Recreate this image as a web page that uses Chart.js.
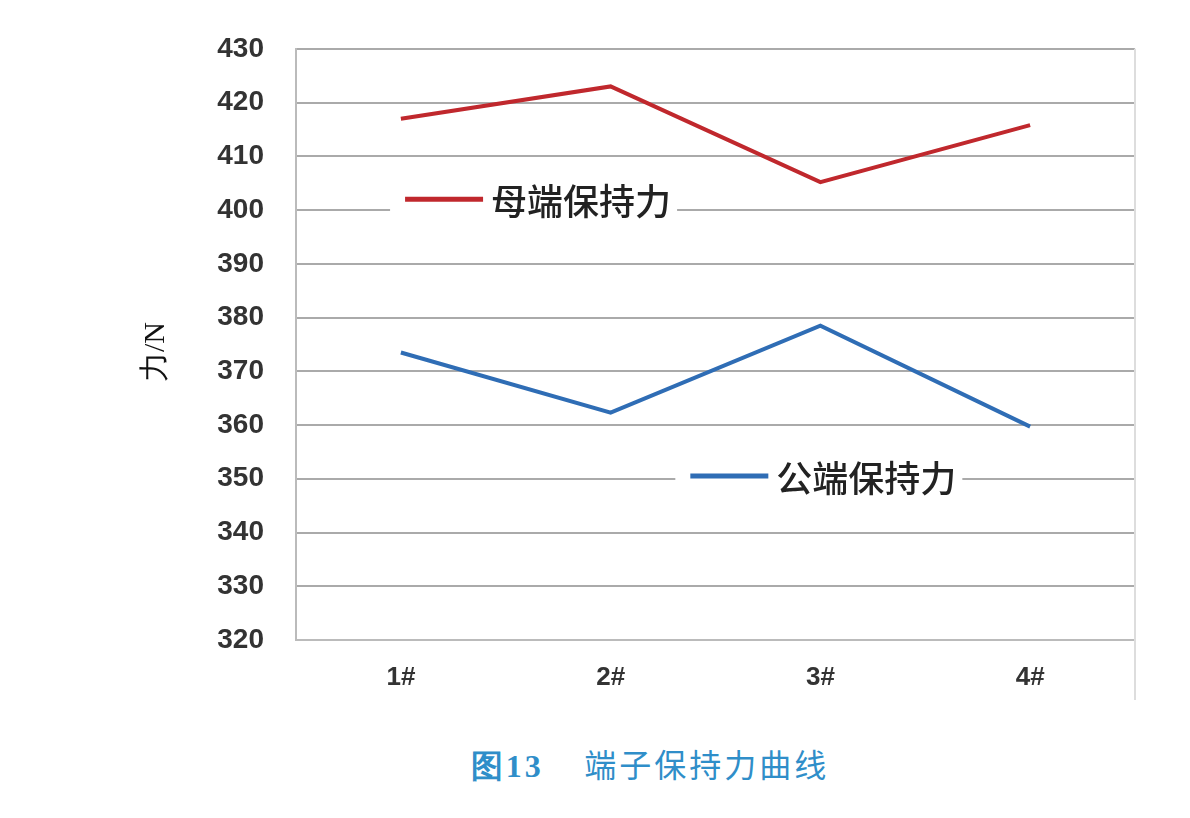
<!DOCTYPE html>
<html><head><meta charset="utf-8">
<script src="https://cdn.jsdelivr.net/npm/chart.js@4/dist/chart.umd.min.js"></script>
<style>
body{margin:0;background:#fff;width:1190px;height:818px;overflow:hidden;font-family:"Noto Sans CJK SC",sans-serif}
#wrap{position:absolute;left:0;top:0;width:1190px;height:710px}
#cap{position:absolute;left:110px;width:1080px;top:740px;text-align:center;color:#2f8ec9;font-size:32px;letter-spacing:3px}
</style></head><body>
<div id="wrap"><canvas id="c"></canvas></div>
<div id="cap"><span style="font-family:'Liberation Serif';font-weight:bold">图13</span>&nbsp;&nbsp;&nbsp;&nbsp;端子保持力曲线</div>
<script>
const categories=["1#","2#","3#","4#"];
const femaleValues=[417,423,405.2,415.8];
const maleValues=[373.5,362.3,378.5,359.7];
const yTicks={min:320,max:430,step:10};
const seriesNames=["母端保持力","公端保持力"];

const labelsPlugin={id:'lbl',afterDatasetsDraw(ch){
 const c=ch.ctx,x=ch.scales.x,y=ch.scales.y;
 const items=[[0.02,402,'#c0282d',seriesNames[0]],[1.38,350.5,'#2f6db5',seriesNames[1]]];
 c.save();
 items.forEach(([xi,v,col,t])=>{
  const px=x.getPixelForValue(0)+(x.getPixelForValue(1)-x.getPixelForValue(0))*xi, py=y.getPixelForValue(v);
  c.font='500 36px "Noto Sans CJK SC"';
  const w=c.measureText(t).width;
  c.fillStyle='#fff';c.fillRect(px-15,py-24,85+w+22,48);
  c.strokeStyle=col;c.lineWidth=5;c.beginPath();c.moveTo(px,py);c.lineTo(px+78,py);c.stroke();
  c.fillStyle='#222';c.textBaseline='middle';c.fillText(t,px+86,py+2);
 });
 c.translate(156,352);c.rotate(-Math.PI/2);c.font='30px "Liberation Serif"';c.fillStyle='#111';c.textAlign='center';c.textBaseline='middle';c.fillText('力/N',0,0);
 c.restore();
}};

new Chart(document.getElementById('c'),{type:'line',
 data:{labels:categories,datasets:[
  {data:femaleValues,borderColor:'#c0282d',borderWidth:4,pointRadius:0,tension:0},
  {data:maleValues,borderColor:'#2f6db5',borderWidth:4,pointRadius:0,tension:0}]},
 options:{responsive:true,maintainAspectRatio:false,animation:false,
  layout:{padding:{left:0,top:47,right:55,bottom:0}},
  plugins:{legend:{display:false},tooltip:{enabled:false}},
  scales:{
   x:{offset:true,grid:{display:false},border:{color:'#bbb',width:2},
      ticks:{color:'#333',font:{size:26,weight:'bold',family:'Liberation Sans'},padding:14},
      afterFit(s){s.height=70;}},
   y:{min:yTicks.min,max:yTicks.max,ticks:{stepSize:yTicks.step,color:'#333',padding:32,font:{size:28,weight:'bold',family:'Liberation Sans'}},
      grid:{color:'#aaa',lineWidth:2,drawTicks:false},border:{color:'#bbb',width:2},
      afterFit(s){s.width=296;}}
  }},
 plugins:[labelsPlugin,{id:'rb',beforeDatasetsDraw(ch){const a=ch.chartArea,c=ch.ctx;c.save();c.strokeStyle='#ddd';c.lineWidth=2;c.beginPath();c.moveTo(a.right,a.top);c.lineTo(a.right,a.bottom+60);c.stroke();c.restore();}}]
});
</script></body></html>
